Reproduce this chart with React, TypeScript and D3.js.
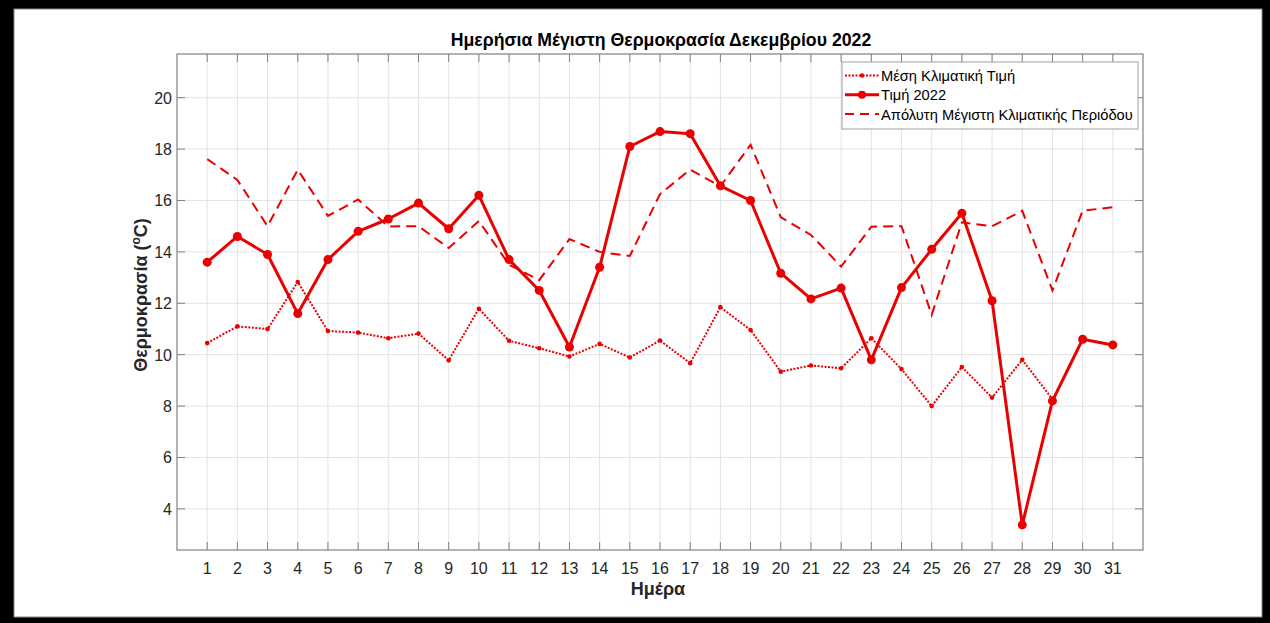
import React from "react";
import * as d3 from "d3";

const days: number[] = Array.from({ length: 31 }, (_, i) => i + 1);
const meanClim: number[] = [10.45, 11.1, 11.0, 12.83, 10.92, 10.86, 10.64, 10.82, 9.78, 11.79, 10.54, 10.25, 9.93, 10.42, 9.89, 10.55, 9.67, 11.85, 10.96, 9.34, 9.58, 9.47, 10.64, 9.44, 8.0, 9.52, 8.33, 9.8, 8.27];
const value2022: number[] = [13.6, 14.6, 13.9, 11.6, 13.7, 14.8, 15.28, 15.9, 14.9, 16.2, 13.7, 12.5, 10.3, 13.4, 18.1, 18.68, 18.6, 16.57, 16.0, 13.17, 12.17, 12.59, 9.8, 12.61, 14.1, 15.5, 12.1, 3.38, 8.2, 10.6, 10.38];
const absMax: number[] = [17.61, 16.8, 15.0, 17.2, 15.4, 16.04, 14.99, 15.0, 14.15, 15.2, 13.5, 12.9, 14.5, 14.0, 13.84, 16.25, 17.2, 16.55, 18.17, 15.35, 14.66, 13.43, 14.98, 15.0, 11.55, 15.15, 15.0, 15.6, 12.5, 15.6, 15.74];
const yTicks: number[] = [4, 6, 8, 10, 12, 14, 16, 18, 20];
const legendLabels: string[] = ["Μέση Κλιματική Τιμή", "Τιμή 2022", "Απόλυτη Μέγιστη Κλιματικής Περιόδου"];
const title = "Ημερήσια Μέγιστη Θερμοκρασία Δεκεμβρίου 2022";

const W = 1270, H = 623;
const L = 177, R = 1143, T = 54, B = 550;
const RED = "#ea0000";
const AX = "#808080";
const TXT = "#262626";
const FONT = "'Liberation Sans', Arial, Helvetica, sans-serif";

export default function App() {
  const x = d3.scaleLinear().domain([0, 32]).range([L, R]);
  const y = d3.scaleLinear().domain([2.4, 21.7]).range([B, T]);
  const line = d3.line<number>().x((_, i) => x(days[i])).y((v) => y(v));
  const tl = 8;
  return (
    <svg width={W} height={H} style={{ position: "absolute", left: 0, top: 0, fontFamily: FONT }}>
      <rect x={0} y={0} width={W} height={H} fill="#000" />
      <rect x={14} y={9} width={1248} height={608} fill="#fff" stroke="#888" strokeWidth={1} />
      {/* grid */}
      {days.map((d) => (
        <line key={"gx" + d} x1={x(d)} x2={x(d)} y1={T} y2={B} stroke="#e3e3e3" strokeWidth={1} />
      ))}
      {yTicks.map((t) => (
        <line key={"gy" + t} x1={L} x2={R} y1={y(t)} y2={y(t)} stroke="#e3e3e3" strokeWidth={1} />
      ))}
      {/* ticks */}
      {days.map((d) => (
        <g key={"tx" + d}>
          <line x1={x(d)} x2={x(d)} y1={B} y2={B - tl} stroke={AX} />
          <line x1={x(d)} x2={x(d)} y1={T} y2={T + tl} stroke={AX} />
          <text x={x(d)} y={574} textAnchor="middle" fontSize={16} fill={TXT}>{d}</text>
        </g>
      ))}
      {yTicks.map((t) => (
        <g key={"ty" + t}>
          <line x1={L} x2={L + tl} y1={y(t)} y2={y(t)} stroke={AX} />
          <line x1={R} x2={R - tl} y1={y(t)} y2={y(t)} stroke={AX} />
          <text x={L - 5} y={y(t) + 6} textAnchor="end" fontSize={16} fill={TXT}>{t}</text>
        </g>
      ))}
      <rect x={L} y={T} width={R - L} height={B - T} fill="none" stroke={AX} strokeWidth={1.2} />
      {/* series */}
      <path d={line(absMax) || ""} fill="none" stroke={RED} strokeWidth={2} strokeDasharray="10,6" />
      <path d={line(meanClim) || ""} fill="none" stroke={RED} strokeWidth={2} strokeDasharray="2,1.5" />
      {meanClim.map((v, i) => (
        <circle key={"m" + i} cx={x(days[i])} cy={y(v)} r={2.3} fill={RED} />
      ))}
      <path d={line(value2022) || ""} fill="none" stroke={RED} strokeWidth={3} strokeLinejoin="round" />
      {value2022.map((v, i) => (
        <circle key={"v" + i} cx={x(days[i])} cy={y(v)} r={4.5} fill={RED} />
      ))}
      {/* title & labels */}
      <text x={661} y={46} textAnchor="middle" fontSize={17.7} fontWeight="bold" fill="#000">{title}</text>
      <text x={658} y={595} textAnchor="middle" fontSize={18} fontWeight="bold" fill={TXT}>Ημέρα</text>
      <text transform="translate(147,295) rotate(-90)" textAnchor="middle" fontSize={18} fontWeight="bold" fill={TXT}>
        Θερμοκρασία (<tspan fontSize={12} dy={-7}>o</tspan><tspan dy={7}>C)</tspan>
      </text>
      {/* legend */}
      <rect x={842} y={62} width={296} height={67} fill="#fff" stroke="#a0a0a0" strokeWidth={1} />
      {legendLabels.map((lab, i) => {
        const ly = 75.5 + i * 19.3;
        return (
          <g key={"lg" + i}>
            {i === 0 && (
              <>
                <line x1={845} x2={879} y1={ly} y2={ly} stroke={RED} strokeWidth={2} strokeDasharray="2,1.5" />
                <circle cx={862} cy={ly} r={2.3} fill={RED} />
              </>
            )}
            {i === 1 && (
              <>
                <line x1={845} x2={879} y1={ly} y2={ly} stroke={RED} strokeWidth={3} />
                <circle cx={862} cy={ly} r={4} fill={RED} />
              </>
            )}
            {i === 2 && (
              <line x1={845} x2={879} y1={ly} y2={ly} stroke={RED} strokeWidth={2} strokeDasharray="9,6" />
            )}
            <text x={881} y={ly + 5.5} fontSize={14.7} fill="#000">{lab}</text>
          </g>
        );
      })}
    </svg>
  );
}
